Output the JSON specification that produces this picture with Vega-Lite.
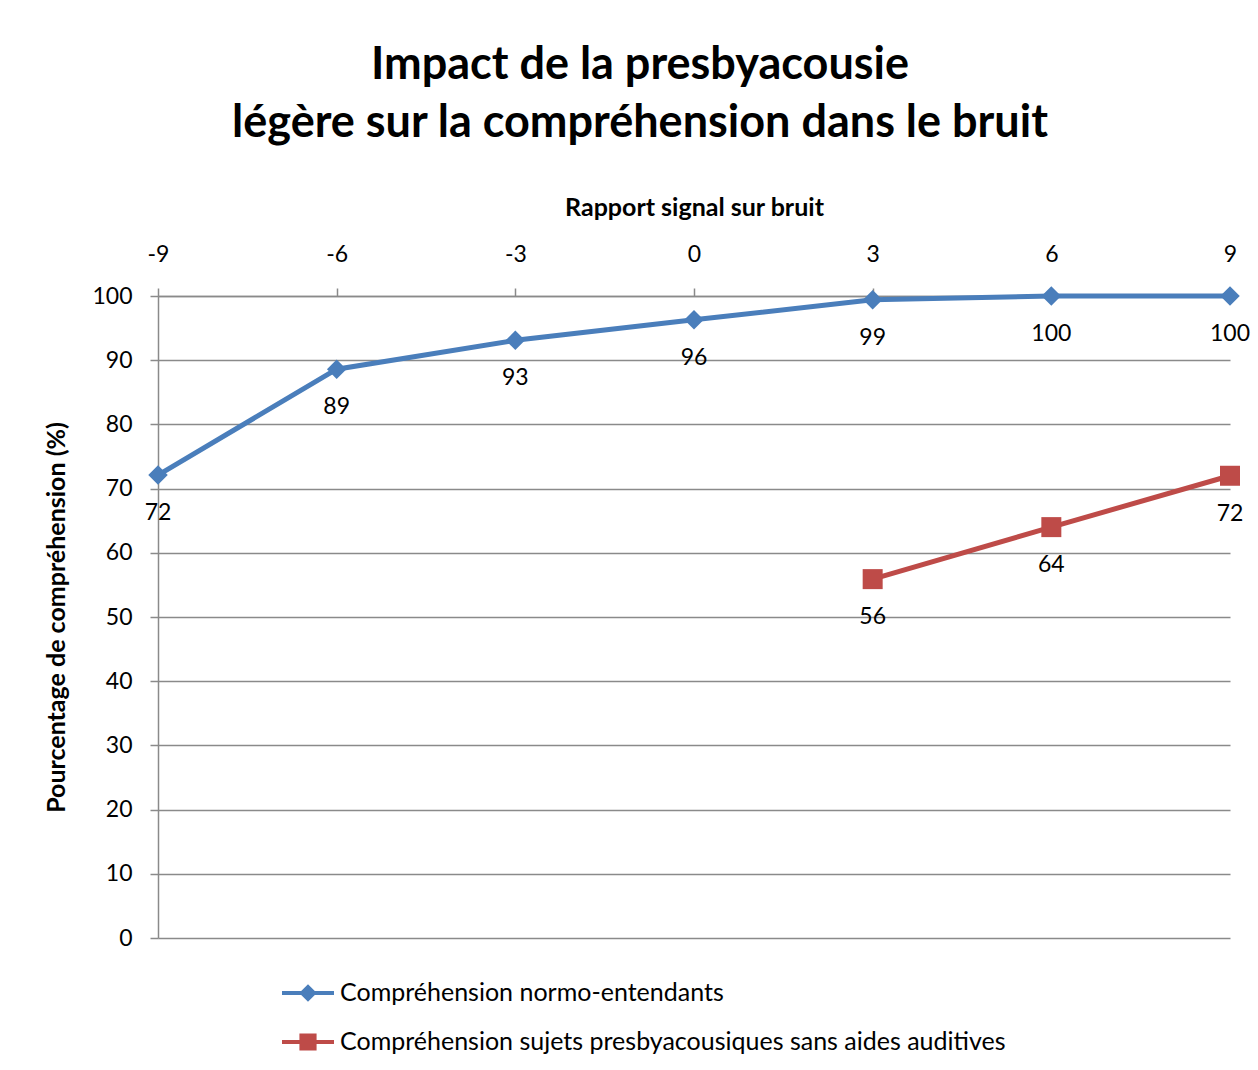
{
  "$schema": "https://vega.github.io/schema/vega-lite/v6.json",
  "autosize": "none",
  "width": 1072,
  "height": 642,
  "padding": {"left": 158, "top": 296, "right": 28, "bottom": 132},
  "background": "white",
  "config": {
    "font": "Lato",
    "view": {"stroke": null},
    "axis": {
      "domainColor": "#8a8a8a",
      "domainWidth": 1.5,
      "tickColor": "#8a8a8a",
      "tickWidth": 1.5,
      "tickSize": 8,
      "gridColor": "#8a8a8a",
      "gridWidth": 1.5,
      "gridOpacity": 1,
      "labelFont": "Lato",
      "labelFontSize": 23,
      "labelColor": "black",
      "titleFont": "Lato",
      "titleFontSize": 25,
      "titleFontWeight": "bold",
      "titleColor": "black"
    }
  },
  "title": {
    "text": ["Impact de la presbyacousie", "légère sur la compréhension dans le bruit"],
    "font": "Lato",
    "fontSize": 45,
    "fontWeight": "bold",
    "color": "black",
    "anchor": "middle",
    "frame": "group",
    "lineHeight": 58,
    "dx": -54,
    "offset": 49
  },
  "data": {
    "values": [
      {"serie": "Compréhension normo-entendants", "snr": -9, "pct": 72.1},
      {"serie": "Compréhension normo-entendants", "snr": -6, "pct": 88.6},
      {"serie": "Compréhension normo-entendants", "snr": -3, "pct": 93.1},
      {"serie": "Compréhension normo-entendants", "snr": 0, "pct": 96.3},
      {"serie": "Compréhension normo-entendants", "snr": 3, "pct": 99.4},
      {"serie": "Compréhension normo-entendants", "snr": 6, "pct": 100},
      {"serie": "Compréhension normo-entendants", "snr": 9, "pct": 100},
      {"serie": "Compréhension sujets presbyacousiques sans aides auditives", "snr": 3, "pct": 55.9},
      {"serie": "Compréhension sujets presbyacousiques sans aides auditives", "snr": 6, "pct": 64},
      {"serie": "Compréhension sujets presbyacousiques sans aides auditives", "snr": 9, "pct": 72}
    ]
  },
  "encoding": {
    "x": {
      "field": "snr",
      "type": "quantitative",
      "scale": {"domain": [-9, 9], "nice": false, "zero": false},
      "axis": {
        "orient": "top",
        "values": [-9, -6, -3, 0, 3, 6, 9],
        "labelExpr": "replace(datum.label, '\u2212', '-')",
        "labelFlush": false,
        "grid": false,
        "labelPadding": 22,
        "title": "Rapport signal sur bruit",
        "titlePadding": 23
      }
    },
    "y": {
      "field": "pct",
      "type": "quantitative",
      "scale": {"domain": [0, 100], "nice": false},
      "axis": {
        "values": [0, 10, 20, 30, 40, 50, 60, 70, 80, 90, 100],
        "grid": true,
        "labelPadding": 18,
        "title": "Pourcentage de compréhension (%)",
        "titlePadding": 22
      }
    }
  },
  "layer": [
    {
      "mark": {"type": "line", "strokeWidth": 5},
      "encoding": {
        "color": {
          "field": "serie",
          "type": "nominal",
          "scale": {
            "domain": ["Compréhension normo-entendants", "Compréhension sujets presbyacousiques sans aides auditives"],
            "range": ["#4A7EBB", "#BE4B48"]
          },
          "legend": {
            "orient": "none",
            "legendX": 124,
            "legendY": 671,
            "title": null,
            "padding": 0,
            "symbolSize": 2704,
            "rowPadding": 10,
            "labelOffset": 6,
            "labelFont": "Lato",
            "labelFontSize": 25,
            "labelColor": "black",
            "labelLimit": 0,
            "encode": {
              "symbols": {
                "update": {
                  "shape": [
                    {"test": "datum.value === 'Compréhension normo-entendants'", "value": "M-1,-0.08H1V0.08H-1Z M0,-0.34L0.34,0L0,0.34L-0.34,0Z"},
                    {"value": "M-1,-0.08H1V0.08H-1Z M-0.33,-0.33H0.33V0.33H-0.33Z"}
                  ],
                  "fill": [
                    {"test": "datum.value === 'Compréhension normo-entendants'", "value": "#4A7EBB"},
                    {"value": "#BE4B48"}
                  ],
                  "stroke": [
                    {"test": "datum.value === 'Compréhension normo-entendants'", "value": "#4A7EBB"},
                    {"value": "#BE4B48"}
                  ],
                  "strokeWidth": {"value": 0},
                  "fillOpacity": {"value": 1},
                  "opacity": {"value": 1}
                }
              }
            }
          }
        }
      }
    },
    {
      "transform": [{"filter": "datum.serie === 'Compréhension normo-entendants'"}],
      "mark": {"type": "point", "filled": true, "opacity": 1, "shape": "diamond", "size": 380, "color": "#4A7EBB"}
    },
    {
      "transform": [{"filter": "datum.serie !== 'Compréhension normo-entendants'"}],
      "mark": {"type": "point", "filled": true, "opacity": 1, "shape": "square", "size": 400, "color": "#BE4B48"}
    },
    {
      "mark": {"type": "text", "dy": 38, "fontSize": 23, "font": "Lato", "color": "black"},
      "encoding": {
        "text": {"field": "pct", "type": "quantitative", "format": ".0f"}
      }
    }
  ]
}
